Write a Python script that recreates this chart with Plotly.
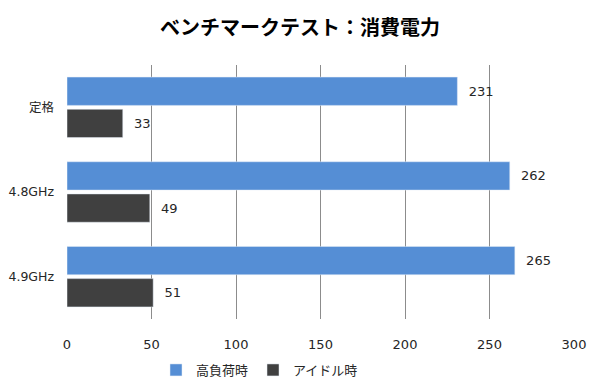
import plotly.graph_objects as go

categories = ["定格", "4.8GHz", "4.9GHz"]
high_load = [231, 262, 265]
idle = [33, 49, 51]
x_ticks = [0, 50, 100, 150, 200, 250, 300]
series_names = ["高負荷時", "アイドル時"]

FONT = "DejaVu Sans, Noto Sans CJK JP"

fig = go.Figure()
fig.add_trace(go.Bar(
    y=categories, x=high_load, name=series_names[0], orientation="h",
    marker=dict(color="#558ED5"), text=high_load, texttemplate="  %{x}",
    textposition="outside",
    textfont=dict(size=13, color="#262626", family=FONT), cliponaxis=False,
))
fig.add_trace(go.Bar(
    y=categories, x=idle, name=series_names[1], orientation="h",
    marker=dict(color="#404040"), text=idle, texttemplate="  %{x}",
    textposition="outside",
    textfont=dict(size=13, color="#262626", family=FONT), cliponaxis=False,
))

fig.update_layout(
    width=600, height=390,
    margin=dict(l=59, r=34, t=57, b=79),
    paper_bgcolor="white", plot_bgcolor="white",
    barmode="group", bargap=0.24, bargroupgap=0.12,
    font=dict(family=FONT, size=13, color="#262626"),
    title=dict(text="<b>ベンチマークテスト：消費電力</b>", x=(300 - 8) / 600, xanchor="center",
               y=1 - 20/390, yanchor="middle",
               font=dict(size=20, color="#000000", family="Noto Sans CJK JP")),
    xaxis=dict(range=[0, 300], tickvals=x_ticks, showgrid=True, gridcolor="#8C8C8C",
               gridwidth=1, zeroline=False, showline=False, ticks="",
               automargin=False, ticklabelstandoff=16,
               tickfont=dict(size=13, color="#262626", family=FONT)),
    yaxis=dict(autorange="reversed", showgrid=False, zeroline=False, showline=False,
               ticks="", ticklabelstandoff=12, automargin=False,
               tickfont=dict(size=12.5, color="#262626", family=FONT)),
    legend=dict(orientation="h", x=89 / 507, xanchor="left", y=-51/254, yanchor="middle",
                font=dict(size=13, color="#262626", family=FONT), traceorder="normal",
                itemwidth=30, tracegroupgap=0),
    showlegend=True,
)

fig.write_html("out.html")
